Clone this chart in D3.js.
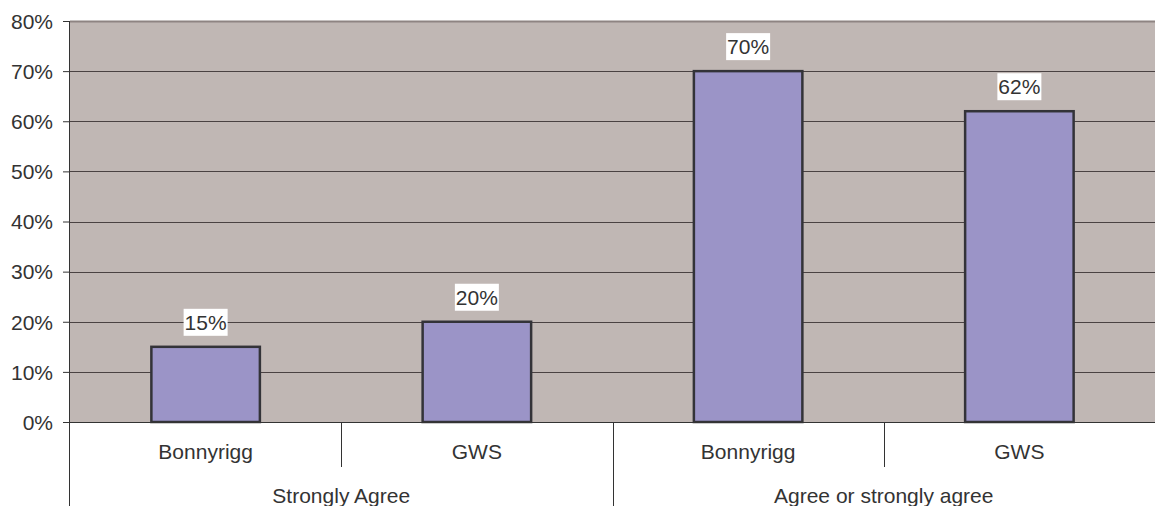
<!DOCTYPE html>
<html><head><meta charset="utf-8">
<script src="https://cdn.jsdelivr.net/npm/d3@7"></script>
<style>body{margin:0;background:#fff}svg{display:block}text{font-family:"Liberation Sans",Arial,sans-serif}</style>
</head><body><svg id="c" width="1155" height="506"></svg>
<script>
const groups = ["Strongly Agree", "Agree or strongly agree"];
const subcats = ["Bonnyrigg", "GWS"];
const values = [0.15, 0.20, 0.70, 0.62];
const valueLabels = ["15%", "20%", "70%", "62%"];
const yTicks = [0, 0.1, 0.2, 0.3, 0.4, 0.5, 0.6, 0.7, 0.8];

const svg = d3.select("#c");
const pL = 70, pR = 1155, pT = 21, pB = 422;
const FS = "21px";
const keys = [];
groups.forEach((g, gi) => subcats.forEach((s, si) => keys.push(gi + "-" + si)));
const x = d3.scaleBand().domain(keys).range([pL, pR]).paddingInner(0.6).paddingOuter(0.3);
const slot = d3.scaleBand().domain(keys).range([pL, pR]);
const y = d3.scaleLinear().domain([0, 0.8]).range([pB, pT]);

svg.append("rect").attr("x", pL).attr("y", pT).attr("width", pR - pL).attr("height", pB - pT).attr("fill", "#c0b7b4");
svg.append("line").attr("x1", pL).attr("x2", pR).attr("y1", pT + 0.5).attr("y2", pT + 0.5).attr("stroke", "#8e8482").attr("stroke-width", 2);

// gridlines
svg.append("g").selectAll("line").data(yTicks.filter(t => t > 0 && t < 0.8)).join("line")
  .attr("x1", pL).attr("x2", pR).attr("y1", d => Math.round(y(d)) + 0.5).attr("y2", d => Math.round(y(d)) + 0.5)
  .attr("stroke", "#4a4242").attr("stroke-width", 1);

// y axis
const yAxis = d3.axisLeft(y).tickValues(yTicks).tickFormat(d3.format(".0%")).tickSize(7).tickPadding(10);
const ga = svg.append("g").attr("transform", `translate(${pL},0)`).call(yAxis);
ga.select(".domain").remove();
ga.selectAll(".tick line").attr("stroke", "#333");
ga.selectAll(".tick text").attr("fill", "#333").style("font-size", FS).style("font-family", '"Liberation Sans",Arial,sans-serif').attr("dy", "0.35em");

// bars
svg.append("g").selectAll("rect").data(values).join("rect")
  .attr("x", (d, i) => x(keys[i]))
  .attr("y", d => y(d))
  .attr("width", x.bandwidth())
  .attr("height", d => y(0) - y(d))
  .attr("fill", "#9b94c7").attr("stroke", "#333338").attr("stroke-width", 2.5);

// value labels
const lg = svg.append("g").selectAll("g").data(values).join("g")
  .attr("transform", (d, i) => `translate(${x(keys[i]) + x.bandwidth() / 2},${y(d) - 17})`);
lg.append("rect").attr("x", -22).attr("y", -21).attr("width", 44).attr("height", 27).attr("fill", "#fff");
lg.append("text").text((d, i) => valueLabels[i]).attr("text-anchor", "middle").attr("fill", "#333").style("font-size", FS);

// x axis line
svg.append("line").attr("x1", pL).attr("x2", pR).attr("y1", pB + 0.5).attr("y2", pB + 0.5).attr("stroke", "#333");
// left axis line
svg.append("line").attr("x1", pL - 0.5).attr("x2", pL - 0.5).attr("y1", pT).attr("y2", 506).attr("stroke", "#333");

// subcategory separators & labels
keys.forEach((k, i) => {
  const cx = slot(k) + slot.bandwidth() / 2;
  svg.append("text").attr("x", cx).attr("y", 459).attr("text-anchor", "middle").attr("fill", "#333").style("font-size", FS).text(subcats[i % 2]);
  if (i % 2 === 1) {
    const sx = Math.round(slot(k)) + 0.5;
    svg.append("line").attr("x1", sx).attr("x2", sx).attr("y1", pB).attr("y2", 467).attr("stroke", "#333");
  }
});
// group separators & labels
groups.forEach((g, gi) => {
  const x0 = slot(keys[gi * 2]), x1 = slot(keys[gi * 2 + 1]) + slot.bandwidth();
  svg.append("text").attr("x", (x0 + x1) / 2).attr("y", 503).attr("text-anchor", "middle").attr("fill", "#333").style("font-size", FS).text(g);
  if (gi > 0) {
    const sx = Math.round(x0) + 0.5;
    svg.append("line").attr("x1", sx).attr("x2", sx).attr("y1", pB).attr("y2", 506).attr("stroke", "#333");
  }
});
</script></body></html>
